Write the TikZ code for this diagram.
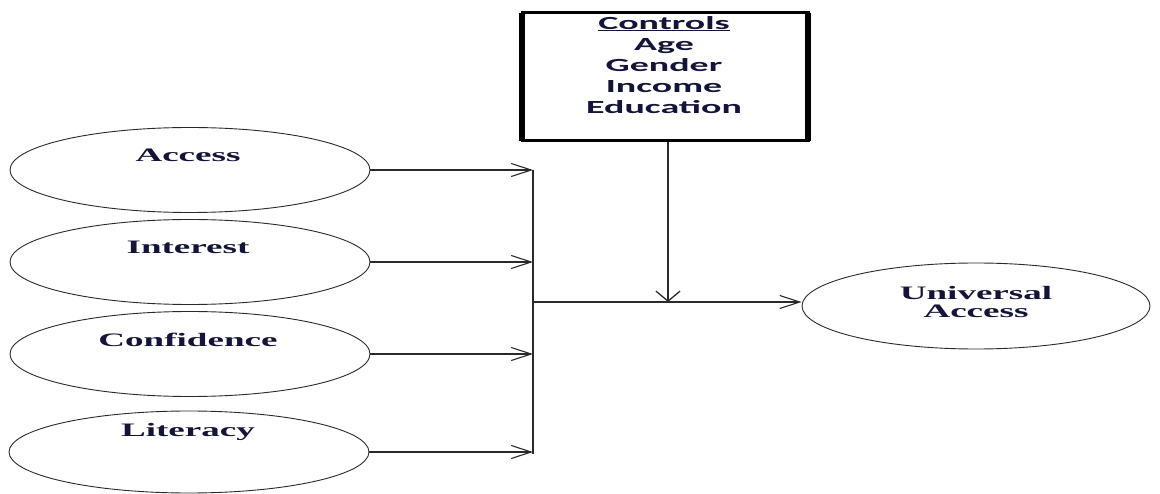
\documentclass[tikz,border=0pt]{standalone}
\usepackage{fontspec}
\setmainfont{Liberation Serif}
\newfontfamily\calfont{Carlito}
\usetikzlibrary{shapes.geometric,arrows.meta}
\definecolor{ink}{HTML}{14143A}
\definecolor{edge}{HTML}{2A2A2A}
\newcommand{\wtext}[2][1.95]{\scalebox{#1}[1]{#2}}
\tikzset{
  factor/.style={ellipse,draw=edge,line width=0.9pt,minimum width=360pt,minimum height=85pt,inner sep=0pt},
  caption/.style={font=\fontsize{19}{19}\selectfont\bfseries,text=ink,inner sep=0pt},
  harrow/.style={draw=edge,line width=1.1pt,-{Straight Barb[length=20pt,width=13pt,line width=1.1pt]}},
  varrow/.style={draw=edge,line width=1.6pt,-{Straight Barb[length=10pt,width=24pt,line width=1.3pt]}},
  ctrlbox/.style={draw=black,line width=3pt,minimum width=286pt,minimum height=128pt,inner sep=0pt},
  boxside/.style={draw=black,line width=6pt}
}
\begin{document}
\begin{tikzpicture}[x=1pt,y=-1pt]
\useasboundingbox (0,0) rectangle (1160,494);

% predictor ellipses
\node[factor] (acc) at (190,170) {};
\node[factor] (int) at (190,262) {};
\node[factor] (con) at (190,354) {};
\node[factor,minimum height=82pt] (lit) at (189,452) {};
\node[caption] at (188,155) {\wtext{Access}};
\node[caption] at (188,247) {\wtext{Interest}};
\node[caption] at (188,340) {\wtext{Confidence}};
\node[caption] at (188,432) {\wtext{Literacy}};

% outcome ellipse
\node[factor,minimum width=348pt,minimum height=86pt] (ua) at (976,306) {};
\node[caption,align=center,font=\fontsize{19}{18}\selectfont\bfseries] at (976,302) {\wtext{Universal}\\\wtext{Access}};

% control variables box, heavier left and right sides
\node[ctrlbox] (ctl) at (665,77) {};
\draw[boxside] ([xshift=1.5pt,yshift=-1.5pt]ctl.north west) -- ([xshift=1.5pt,yshift=1.5pt]ctl.south west);
\draw[boxside] ([xshift=-1.5pt,yshift=-1.5pt]ctl.north east) -- ([xshift=-1.5pt,yshift=1.5pt]ctl.south east);
\node[caption,align=center,font=\calfont\fontsize{18.5}{21.2}\selectfont\bfseries] (ctltext) at (664,65)
  {\wtext[2.05]{\underline{Controls}}\\\wtext[2.05]{Age}\\\wtext[2.05]{Gender}\\\wtext[2.05]{Income}\\\wtext[2.05]{Education}};

% collector bar and joins
\coordinate (bartop) at (533,170);
\coordinate (barbot) at (533,454);
\coordinate (join) at (533,302);
\coordinate (meet) at (668,302);
\draw[edge,line width=1.6pt] (bartop) -- (barbot);
\draw[harrow] (acc.east) -- (acc.east -| bartop);
\draw[harrow] (int.east) -- (int.east -| bartop);
\draw[harrow] (con.east) -- (con.east -| bartop);
\draw[harrow] (lit.east) -- (lit.east -| bartop);
\draw[harrow] (join) -- (join -| ua.west);
\draw[varrow] (ctl.south -| meet) -- (meet);
\end{tikzpicture}
\end{document}
